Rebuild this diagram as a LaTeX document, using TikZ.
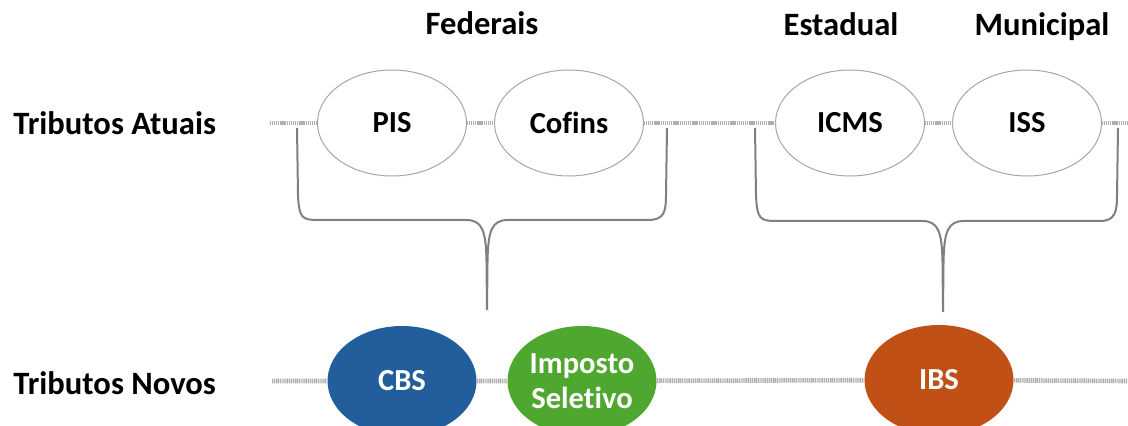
\documentclass[tikz,border=0pt]{standalone}
\usepackage{fontspec}
\setmainfont[Ligatures=NoCommon]{Carlito}
\usetikzlibrary{shapes.geometric}
\definecolor{cbsblue}{RGB}{34,94,155}
\definecolor{isgreen}{RGB}{78,167,46}
\definecolor{ibsorange}{RGB}{192,80,22}
\definecolor{bracegray}{RGB}{128,128,128}
\definecolor{linegray}{RGB}{175,175,175}
\tikzset{
  label/.style={font=\fontsize{16.3}{19}\selectfont\bfseries, inner sep=0pt},
  oldtax/.style={ellipse, draw=gray!70, line width=0.5pt, fill=white,
    minimum width=74.5pt, minimum height=53pt, inner sep=0pt,
    font=\fontsize{15.3}{18}\selectfont\bfseries},
  newtax/.style={ellipse, draw=none, minimum width=74.5pt, minimum height=55pt,
    inner sep=0pt, text=white, align=center,
    font=\fontsize{15.3}{17.5}\selectfont\bfseries},
  tline/.style={draw=linegray, line width=2.3pt, dash pattern=on 0.6pt off 0.35pt},
  bracestyle/.style={draw=bracegray, line width=1pt}
}
\begin{document}
\begin{tikzpicture}[x=0.5pt,y=-0.5pt]
\useasboundingbox (0,0) rectangle (1128,426);
% headings
\node[label, anchor=base] (fed) at (482,35) {Federais};
\node[label, anchor=base] (est) at (841,36) {Estadual};
\node[label, anchor=base] (mun) at (1042,36) {Municipal};
\node[label, anchor=base west] (atuais) at (13,135) {Tributos Atuais};
\node[label, anchor=base west] (novos) at (13,394) {Tributos Novos};
% top row
\node[oldtax] (pis) at (392,123) {PIS};
\node[oldtax] (cofins) at (569,123) {Cofins};
\node[oldtax] (icms) at (850,123) {ICMS};
\node[oldtax] (iss) at (1027,123) {ISS};
\coordinate (ta1) at (270,123);
\coordinate (ta2) at (1127,123);
\draw[tline] (ta1) -- (pis) -- (cofins) -- (icms) -- (iss) -- (ta2);
% bottom row
\node[newtax, fill=cbsblue] (cbs) at (402,381) {CBS};
\node[newtax, fill=isgreen] (is) at (582,381) {Imposto\\Seletivo};
\node[newtax, fill=ibsorange] (ibs) at (939,380) {IBS};
\coordinate (tn1) at (272,381);
\coordinate (tn2) at (1127,381);
\draw[tline] (tn1) -- (cbs) -- (is) -- (ibs) -- (tn2);
% left brace
\coordinate (lb1) at (297,128);
\coordinate (lbtip) at (487,310);
\coordinate (lb2) at (667,128);
\draw[bracestyle] (lb1) -- (298,195) .. controls (299,218) and (302,220) .. (318,220)
  -- (466,220) .. controls (482,220) and (486,230) .. (486.5,262) -- (lbtip);
\draw[bracestyle] (lbtip) -- (487.5,262) .. controls (488,230) and (492,220) .. (508,220)
  -- (648,220) .. controls (664,220) and (666,212) .. (666,195) -- (lb2);
% right brace
\coordinate (rb1) at (755,128);
\coordinate (rbtip) at (943,312);
\coordinate (rb2) at (1118,128);
\draw[bracestyle] (rb1) -- (756,195) .. controls (757,219) and (760,221) .. (776,221)
  -- (922,221) .. controls (938,221) and (942,231) .. (942.5,263) -- (rbtip);
\draw[bracestyle] (rbtip) -- (943.5,263) .. controls (944,231) and (948,221) .. (964,221)
  -- (1100,221) .. controls (1115,221) and (1117,212) .. (1117,195) -- (rb2);
\end{tikzpicture}
\end{document}
